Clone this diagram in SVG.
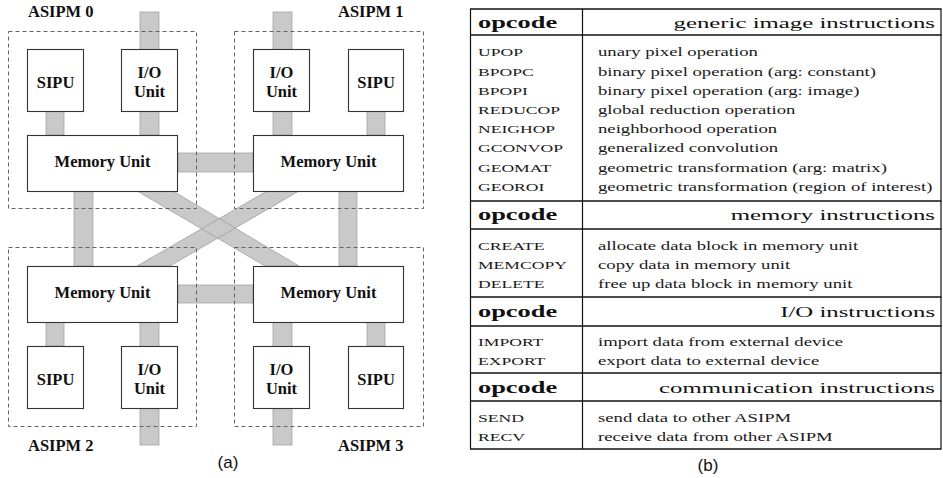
<svg xmlns="http://www.w3.org/2000/svg" width="943" height="478" viewBox="0 0 943 478">
  <style>
    .bus { fill: #c9c9c9; stroke: none; }
    .bus-edge { fill: none; stroke: #9a9a9a; stroke-width: 0.7; }
    .box { fill: #ffffff; stroke: #333333; stroke-width: 1.1; }
    .frame { fill: none; stroke: #555555; stroke-width: 0.9; stroke-dasharray: 4 3; }
    .lbl { font-family: "Liberation Serif", "Times New Roman", serif; font-weight: bold; font-size: 16.5px; fill: #111111; text-anchor: middle; }
    .asipm { font-family: "Liberation Serif", "Times New Roman", serif; font-weight: bold; font-size: 16.5px; fill: #111111; }
    .cap { font-family: "Liberation Sans", Arial, sans-serif; font-size: 17px; fill: #111111; text-anchor: middle; }
    .rule { stroke: #111111; stroke-width: 1.6; }
    .vrule { stroke: #111111; stroke-width: 1.2; }
    .hd { font-family: "Liberation Serif", "Times New Roman", serif; font-weight: bold; font-size: 16.5px; fill: #111111; }
    .hdr { font-family: "Liberation Serif", "Times New Roman", serif; font-size: 15.5px; fill: #111111; text-anchor: end; }
    .op { font-family: "Liberation Serif", "Times New Roman", serif; font-size: 11px; fill: #1a1a1a; }
    .ds { font-family: "Liberation Serif", "Times New Roman", serif; font-size: 11.7px; fill: #1a1a1a; }
  </style>

  <!-- (a) interconnect buses -->
  <g id="connectors">
    <g class="bus">
      <rect x="140" y="12" width="19" height="123"/>
      <rect x="273" y="12" width="19" height="123"/>
      <rect x="46" y="111" width="18" height="24"/>
      <rect x="367" y="111" width="18" height="24"/>
      <rect x="178" y="153" width="75" height="19"/>
      <rect x="74" y="191" width="19" height="75"/>
      <rect x="339" y="191" width="18" height="75"/>
      <polygon points="137,191 173,191 299,266 265,266"/>
      <polygon points="267,191 299,191 170,266 137,266"/>
      <rect x="178" y="285" width="75" height="18"/>
      <rect x="46" y="322" width="18" height="24"/>
      <rect x="367" y="322" width="18" height="24"/>
      <rect x="140" y="322" width="19" height="123"/>
      <rect x="273" y="322" width="19" height="123"/>
    </g>
    <g class="bus-edge">
      <rect x="140" y="12" width="19" height="123"/>
      <rect x="273" y="12" width="19" height="123"/>
      <rect x="46" y="111" width="18" height="24"/>
      <rect x="367" y="111" width="18" height="24"/>
      <rect x="178" y="153" width="75" height="19"/>
      <rect x="74" y="191" width="19" height="75"/>
      <rect x="339" y="191" width="18" height="75"/>
      <polygon points="137,191 173,191 299,266 265,266"/>
      <polygon points="267,191 299,191 170,266 137,266"/>
      <rect x="178" y="285" width="75" height="18"/>
      <rect x="46" y="322" width="18" height="24"/>
      <rect x="367" y="322" width="18" height="24"/>
      <rect x="140" y="322" width="19" height="123"/>
      <rect x="273" y="322" width="19" height="123"/>
    </g>
  </g>

  <!-- ASIPM 0 -->
  <g id="asipm0">
    <rect class="frame" x="8.5" y="31.5" width="188" height="177"/>
    <text class="asipm" x="28" y="17">ASIPM 0</text>
    <g id="sipu0">
      <rect class="box" x="27.5" y="49.5" width="56" height="62"/>
      <text class="lbl" x="55.5" y="88">SIPU</text>
    </g>
    <g id="io0">
      <rect class="box" x="121.5" y="49.5" width="56" height="62"/>
      <text class="lbl" x="149.5" y="78">I/O</text>
      <text class="lbl" x="149.5" y="97">Unit</text>
    </g>
    <g id="mem0">
      <rect class="box" x="27.5" y="135.5" width="150" height="56"/>
      <text class="lbl" x="102.5" y="167">Memory Unit</text>
    </g>
  </g>

  <!-- ASIPM 1 -->
  <g id="asipm1">
    <rect class="frame" x="234.5" y="31.5" width="189" height="177"/>
    <text class="asipm" x="338" y="17">ASIPM 1</text>
    <g id="io1">
      <rect class="box" x="253.5" y="49.5" width="56" height="62"/>
      <text class="lbl" x="281.5" y="78">I/O</text>
      <text class="lbl" x="281.5" y="97">Unit</text>
    </g>
    <g id="sipu1">
      <rect class="box" x="348.5" y="49.5" width="55" height="62"/>
      <text class="lbl" x="376" y="88">SIPU</text>
    </g>
    <g id="mem1">
      <rect class="box" x="253.5" y="135.5" width="150" height="56"/>
      <text class="lbl" x="328.5" y="167">Memory Unit</text>
    </g>
  </g>

  <!-- ASIPM 2 -->
  <g id="asipm2">
    <rect class="frame" x="8.5" y="247.5" width="188" height="179"/>
    <text class="asipm" x="28" y="451">ASIPM 2</text>
    <g id="mem2">
      <rect class="box" x="27.5" y="266.5" width="150" height="56"/>
      <text class="lbl" x="102.5" y="298">Memory Unit</text>
    </g>
    <g id="sipu2">
      <rect class="box" x="27.5" y="346.5" width="56" height="62"/>
      <text class="lbl" x="55.5" y="385">SIPU</text>
    </g>
    <g id="io2">
      <rect class="box" x="121.5" y="346.5" width="56" height="62"/>
      <text class="lbl" x="149.5" y="375">I/O</text>
      <text class="lbl" x="149.5" y="394">Unit</text>
    </g>
  </g>

  <!-- ASIPM 3 -->
  <g id="asipm3">
    <rect class="frame" x="234.5" y="247.5" width="189" height="179"/>
    <text class="asipm" x="338" y="451">ASIPM 3</text>
    <g id="mem3">
      <rect class="box" x="253.5" y="266.5" width="150" height="56"/>
      <text class="lbl" x="328.5" y="298">Memory Unit</text>
    </g>
    <g id="io3">
      <rect class="box" x="253.5" y="346.5" width="56" height="62"/>
      <text class="lbl" x="281.5" y="375">I/O</text>
      <text class="lbl" x="281.5" y="394">Unit</text>
    </g>
    <g id="sipu3">
      <rect class="box" x="348.5" y="346.5" width="55" height="62"/>
      <text class="lbl" x="376" y="385">SIPU</text>
    </g>
  </g>

  <text class="cap" x="228" y="468">(a)</text>

  <!-- (b) instruction table -->
  <g id="table">
    <g class="rule">
      <line x1="470" y1="9" x2="941.5" y2="9"/>
      <line x1="470" y1="35" x2="941.5" y2="35"/>
      <line x1="470" y1="201" x2="941.5" y2="201"/>
      <line x1="470" y1="229" x2="941.5" y2="229"/>
      <line x1="470" y1="297" x2="941.5" y2="297"/>
      <line x1="470" y1="326" x2="941.5" y2="326"/>
      <line x1="470" y1="373" x2="941.5" y2="373"/>
      <line x1="470" y1="401" x2="941.5" y2="401"/>
      <line x1="470" y1="449" x2="941.5" y2="449"/>
    </g>
    <g class="vrule">
      <line x1="470.5" y1="9" x2="470.5" y2="449"/>
      <line x1="582.5" y1="9" x2="582.5" y2="449"/>
      <line x1="941" y1="9" x2="941" y2="449"/>
    </g>

    <!-- glyphs widened 1.6x to match the table's proportions -->
    <g transform="matrix(1.6 0 0 1 0 0)">
      <text class="hd" x="298.75" y="28">opcode</text>
      <text class="hdr" x="584.4" y="28">generic image instructions</text>
      <text class="op" x="298.75" y="56">UPOP</text>
      <text class="op" x="298.75" y="76">BPOPC</text>
      <text class="op" x="298.75" y="95">BPOPI</text>
      <text class="op" x="298.75" y="114">REDUCOP</text>
      <text class="op" x="298.75" y="133">NEIGHOP</text>
      <text class="op" x="298.75" y="152">GCONVOP</text>
      <text class="op" x="298.75" y="172">GEOMAT</text>
      <text class="op" x="298.75" y="191">GEOROI</text>
      <text class="ds" x="373.75" y="56">unary pixel operation</text>
      <text class="ds" x="373.75" y="76">binary pixel operation (arg: constant)</text>
      <text class="ds" x="373.75" y="95">binary pixel operation (arg: image)</text>
      <text class="ds" x="373.75" y="114">global reduction operation</text>
      <text class="ds" x="373.75" y="133">neighborhood operation</text>
      <text class="ds" x="373.75" y="152">generalized convolution</text>
      <text class="ds" x="373.75" y="172">geometric transformation (arg: matrix)</text>
      <text class="ds" x="373.75" y="191">geometric transformation (region of interest)</text>

      <text class="hd" x="298.75" y="220">opcode</text>
      <text class="hdr" x="584.4" y="220">memory instructions</text>
      <text class="op" x="298.75" y="250">CREATE</text>
      <text class="op" x="298.75" y="269">MEMCOPY</text>
      <text class="op" x="298.75" y="288">DELETE</text>
      <text class="ds" x="373.75" y="250">allocate data block in memory unit</text>
      <text class="ds" x="373.75" y="269">copy data in memory unit</text>
      <text class="ds" x="373.75" y="288">free up data block in memory unit</text>

      <text class="hd" x="298.75" y="317">opcode</text>
      <text class="hdr" x="584.4" y="317">I/O instructions</text>
      <text class="op" x="298.75" y="346">IMPORT</text>
      <text class="op" x="298.75" y="365">EXPORT</text>
      <text class="ds" x="373.75" y="346">import data from external device</text>
      <text class="ds" x="373.75" y="365">export data to external device</text>

      <text class="hd" x="298.75" y="393">opcode</text>
      <text class="hdr" x="584.4" y="393">communication instructions</text>
      <text class="op" x="298.75" y="422">SEND</text>
      <text class="op" x="298.75" y="441">RECV</text>
      <text class="ds" x="373.75" y="422">send data to other ASIPM</text>
      <text class="ds" x="373.75" y="441">receive data from other ASIPM</text>
    </g>
  </g>

  <text class="cap" x="708" y="471">(b)</text>
</svg>
